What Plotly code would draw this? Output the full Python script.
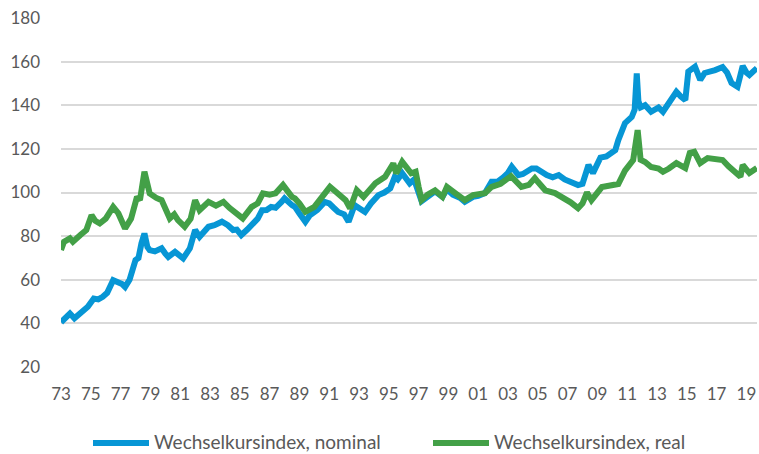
import plotly.graph_objects as go

# ---- data ----
nominal_t = [1973.0, 1973.3, 1973.6, 1973.9, 1974.2, 1974.5, 1974.8, 1975.2, 1975.5, 1975.8,
             1976.1, 1976.5, 1976.85, 1977.1, 1977.3, 1977.6, 1978.0, 1978.2, 1978.4, 1978.6,
             1978.8, 1978.95, 1979.3, 1979.75, 1980.0, 1980.2, 1980.65, 1981.0, 1981.2, 1981.65,
             1981.85, 1982.0, 1982.3, 1982.6, 1982.9, 1983.3, 1983.8, 1984.2, 1984.55, 1984.8,
             1985.1, 1985.5, 1985.8, 1986.2, 1986.5, 1986.8, 1987.1, 1987.4, 1987.8, 1988.0,
             1988.5, 1988.7, 1989.0, 1989.4, 1989.7, 1990.2, 1990.7, 1991.0, 1991.3, 1991.6,
             1992.0, 1992.3, 1992.7, 1993.0, 1993.4, 1993.8, 1994.3, 1994.7, 1995.1, 1995.4,
             1995.6, 1995.9, 1996.4, 1996.7, 1997.0, 1997.2, 1997.6, 1998.1, 1998.6, 1998.9,
             1999.3, 1999.8, 2000.1, 2000.65, 2001.0, 2001.45, 2001.9, 2002.3, 2002.7, 2003.0,
             2003.25, 2003.7, 2004.0, 2004.3, 2004.6, 2004.9, 2005.3, 2005.6, 2006.0, 2006.4,
             2006.8, 2007.2, 2007.7, 2008.0, 2008.4, 2008.7, 2009.0, 2009.2, 2009.6, 2010.0,
             2010.2, 2010.4, 2010.85, 2011.3, 2011.5, 2011.64, 2011.75, 2011.9, 2012.2, 2012.6,
             2013.1, 2013.4, 2013.8, 2014.3, 2014.6, 2014.9, 2015.1, 2015.55, 2015.9, 2016.2,
             2016.9, 2017.4, 2017.7, 2018.0, 2018.4, 2018.75, 2019.0, 2019.2, 2019.7]
nominal_v = [40.5, 43, 44.5, 42.3, 44, 45.5, 47.6, 51.4, 51, 52.2,
             54, 59.8, 59, 58, 56.7, 60, 69, 70, 76.7, 81.2,
             75, 73.6, 73, 74.4, 72, 70.5, 72.8, 71, 69.8, 74.4,
             80, 82.8, 79.7, 82, 84.3, 85, 86.6, 85, 82.8, 83,
             80.5, 83, 85, 88, 91.9, 92, 93.4, 93, 95.7, 97.3,
             94.2, 93.4, 90.4, 86.6, 89.6, 92, 95.7, 95, 93, 91.1,
             90, 86.6, 94.2, 93, 91.1, 95, 98.8, 100, 101.9, 107.2,
             106, 108.8, 104.2, 106, 99.7, 96, 98, 100.5, 98, 101.5,
             99, 97.5, 95.7, 98, 98.5, 99.7, 104.9, 105, 107, 109,
             111.8, 108, 108.5, 110, 111, 111, 109, 108, 107, 108,
             106, 105, 103.4, 104, 112.6, 108.9, 113, 116, 116.5, 118,
             119.4, 124, 131.8, 134.6, 138, 154.6, 142, 139, 140, 137,
             139, 137, 141, 146.2, 144, 142.4, 155.4, 157.7, 151.6, 154.8,
             156.1, 157.5, 155, 150.2, 148.5, 158, 155, 153.9, 157]

real_t = [1973.0, 1973.2, 1973.6, 1973.8, 1974.3, 1974.7, 1975.05, 1975.3, 1975.6, 1976.0,
          1976.5, 1976.85, 1977.3, 1977.7, 1978.1, 1978.3, 1978.6, 1978.95, 1979.4, 1979.75,
          1980.3, 1980.6, 1980.85, 1981.3, 1981.7, 1982.0, 1982.3, 1982.9, 1983.4, 1983.9,
          1984.3, 1984.7, 1985.2, 1985.8, 1986.2, 1986.55, 1987.0, 1987.4, 1987.9, 1988.5,
          1988.7, 1989.0, 1989.4, 1990.0, 1990.5, 1991.05, 1991.5, 1992.1, 1992.4, 1992.85,
          1993.3, 1994.1, 1994.75, 1995.3, 1995.5, 1995.9, 1996.5, 1996.8, 1997.0, 1997.2,
          1997.6, 1998.1, 1998.6, 1998.9, 1999.5, 2000.1, 2000.65, 2001.45, 2001.9, 2002.5,
          2003.2, 2003.6, 2003.9, 2004.4, 2004.8, 2005.0, 2005.5, 2006.15, 2006.6, 2007.2,
          2007.7, 2008.0, 2008.3, 2008.6, 2009.3, 2009.8, 2010.4, 2010.85, 2011.4, 2011.7,
          2011.9, 2012.2, 2012.6, 2013.1, 2013.4, 2013.8, 2014.3, 2014.9, 2015.2, 2015.5,
          2015.9, 2016.4, 2016.9, 2017.4, 2017.8, 2018.2, 2018.6, 2018.75, 2019.2, 2019.7]
real_v = [73.6, 77.4, 79, 77.4, 80.5, 82.8, 89.6, 87, 85.8, 88,
          93.4, 90.4, 83.5, 88, 98, 96.5, 109.5, 99.6, 97.5, 96.5,
          88.1, 90, 87.3, 84.3, 88, 96.5, 91.9, 95.7, 94, 95.7,
          93, 90.4, 88.1, 93.4, 95, 99.6, 99, 99.6, 103.4, 98,
          97.3, 95, 91.1, 93.4, 98, 102.6, 100, 96.5, 92.7, 101.1,
          98, 104.2, 107.2, 113.3, 108.8, 114.1, 108.8, 109.5, 102.6, 96.5,
          99, 101, 98, 102.6, 99.5, 96.5, 98.8, 99.7, 102.6, 104,
          107.5, 105, 102.6, 103.5, 106.6, 104.9, 101, 99.7, 98, 95.5,
          92.8, 95, 100, 96.5, 102.5, 103, 103.9, 110, 114.9, 128.6,
          115, 114, 111.7, 111, 109.5, 111, 113.5, 111.2, 118.1, 118.7,
          113.5, 115.8, 115, 114.9, 112, 109.5, 107.2, 112.6, 108.9, 111.2]

tick_years = list(range(1973, 2020, 2))
tick_labels = ["%02d" % (y % 100) for y in tick_years]
y_ticks = [20, 40, 60, 80, 100, 120, 140, 160, 180]

series_names = ["Wechselkursindex, nominal", "Wechselkursindex, real"]
series_colors = ["#0796D5", "#43A047"]

FONT = "Lato"
TXT = "#595959"

fig = go.Figure()
for t, v, name, col in [(nominal_t, nominal_v, series_names[0], series_colors[0]),
                        (real_t, real_v, series_names[1], series_colors[1])]:
    fig.add_trace(go.Scatter(x=t, y=v, mode="lines", name=name,
                             line=dict(color=col, width=6), showlegend=False))

W, H = 759, 454
L, R, T, B = 61, 2, 18, 87
pw, ph = W - L - R, H - T - B

def px_x(p):
    return (p - L) / pw

def px_y(p):
    return (H - B - p) / ph

# manual legend (swatches + text)
swatch_y, text_y = 443, 441
for (x0, x1, tx), name, col in [((93, 149, 153), series_names[0], series_colors[0]),
                                ((433, 489, 493), series_names[1], series_colors[1])]:
    fig.add_shape(type="line", xref="paper", yref="paper",
                  x0=px_x(x0), x1=px_x(x1), y0=px_y(swatch_y), y1=px_y(swatch_y),
                  line=dict(color=col, width=6), layer="above")
    fig.add_annotation(xref="paper", yref="paper", x=px_x(tx), y=px_y(text_y),
                       text=name, showarrow=False, xanchor="left", yanchor="middle",
                       borderpad=0,
                       font=dict(family=FONT, size=19, color=TXT))

fig.update_layout(
    width=W, height=H,
    margin=dict(l=L, r=R, t=T, b=B, pad=0),
    paper_bgcolor="white", plot_bgcolor="white",
    font=dict(family=FONT, size=17, color=TXT),
    showlegend=False,
    xaxis=dict(range=[1973, 2019.71], tickmode="array", tickvals=tick_years,
               ticktext=tick_labels, showgrid=False, zeroline=False,
               showline=False, ticks="", ticklabelstandoff=15,
               tickfont=dict(family=FONT, size=17, color=TXT)),
    yaxis=dict(range=[20, 180], tickmode="array", tickvals=y_ticks,
               showgrid=True, gridcolor="#D9D9D9", gridwidth=2, zeroline=False,
               showline=False, ticks="", ticklabelstandoff=20,
               tickfont=dict(family=FONT, size=17, color=TXT)),
)

fig.write_html("out.html", config={"displayModeBar": False},
               post_script="document.body.style.margin='0';document.body.style.overflow='hidden';")
